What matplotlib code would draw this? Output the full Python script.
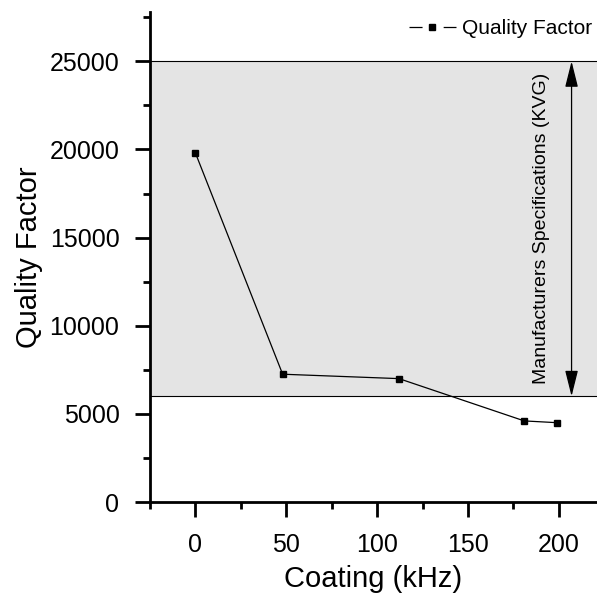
import matplotlib
matplotlib.use("Agg")
import matplotlib.pyplot as plt
from matplotlib.lines import Line2D
from matplotlib.ticker import MultipleLocator

plt.rcParams['font.family'] = ['Liberation Sans', 'DejaVu Sans']
plt.rcParams['lines.scale_dashes'] = False

coating = [0, 48, 112, 181, 199]
quality = [19800, 7250, 7000, 4600, 4500]
spec_low, spec_high = 6000, 25000
series_label = "Quality Factor"
spec_label = "Manufacturers Specifications (KVG)"

fig = plt.figure(figsize=(5.97, 5.96), dpi=100)
W, H = 597, 596
ax = fig.add_axes([150 / W, (H - 502) / H, (597 - 150) / W, (502 - 12) / H])

ax.set_xlim(-25, 221)
ax.set_ylim(0, 27800)

ax.axhspan(spec_low, spec_high, facecolor='#e4e4e4', edgecolor='none', zorder=0)
ax.axhline(spec_low, color='black', lw=0.8, zorder=1)
ax.axhline(spec_high, color='black', lw=0.8, zorder=1)

ax.plot(coating, quality, color='black', lw=0.9, marker='s', markersize=5, zorder=3)

ax.annotate('', xy=(207, spec_high), xytext=(207, spec_low),
            arrowprops=dict(arrowstyle='<|-|>,head_length=0.8,head_width=0.2',
                            color='black', lw=0.9,
                            mutation_scale=20, shrinkA=0, shrinkB=0))
ax.text(190.5, (spec_low + spec_high) / 2, spec_label, rotation=90,
        ha='center', va='center', fontsize=14)

for s in ['top', 'right']:
    ax.spines[s].set_visible(False)
for s in ['left', 'bottom']:
    ax.spines[s].set_linewidth(2)

ax.xaxis.set_major_locator(MultipleLocator(50))
ax.xaxis.set_minor_locator(MultipleLocator(25))
ax.yaxis.set_major_locator(MultipleLocator(5000))
ax.yaxis.set_minor_locator(MultipleLocator(2500))
ax.tick_params(which='major', direction='out', length=11, width=2, labelsize=18, pad=11)
ax.tick_params(which='minor', direction='out', length=5, width=2)

ax.set_xlabel("Coating (kHz)", fontsize=21, labelpad=6)
ax.set_ylabel("Quality Factor", fontsize=21, labelpad=5)

proxy = Line2D([], [], color='black', lw=0.9, marker='s', markersize=4,
               dashes=(9.4, 15.2))
leg = ax.legend([proxy], [series_label], loc='upper right',
                bbox_to_anchor=(1.005, 1.0), frameon=False,
                fontsize=15, handlelength=2.25, handletextpad=0.3,
                borderaxespad=0.0, borderpad=0.35)

fig.savefig("out.png", dpi=100)
